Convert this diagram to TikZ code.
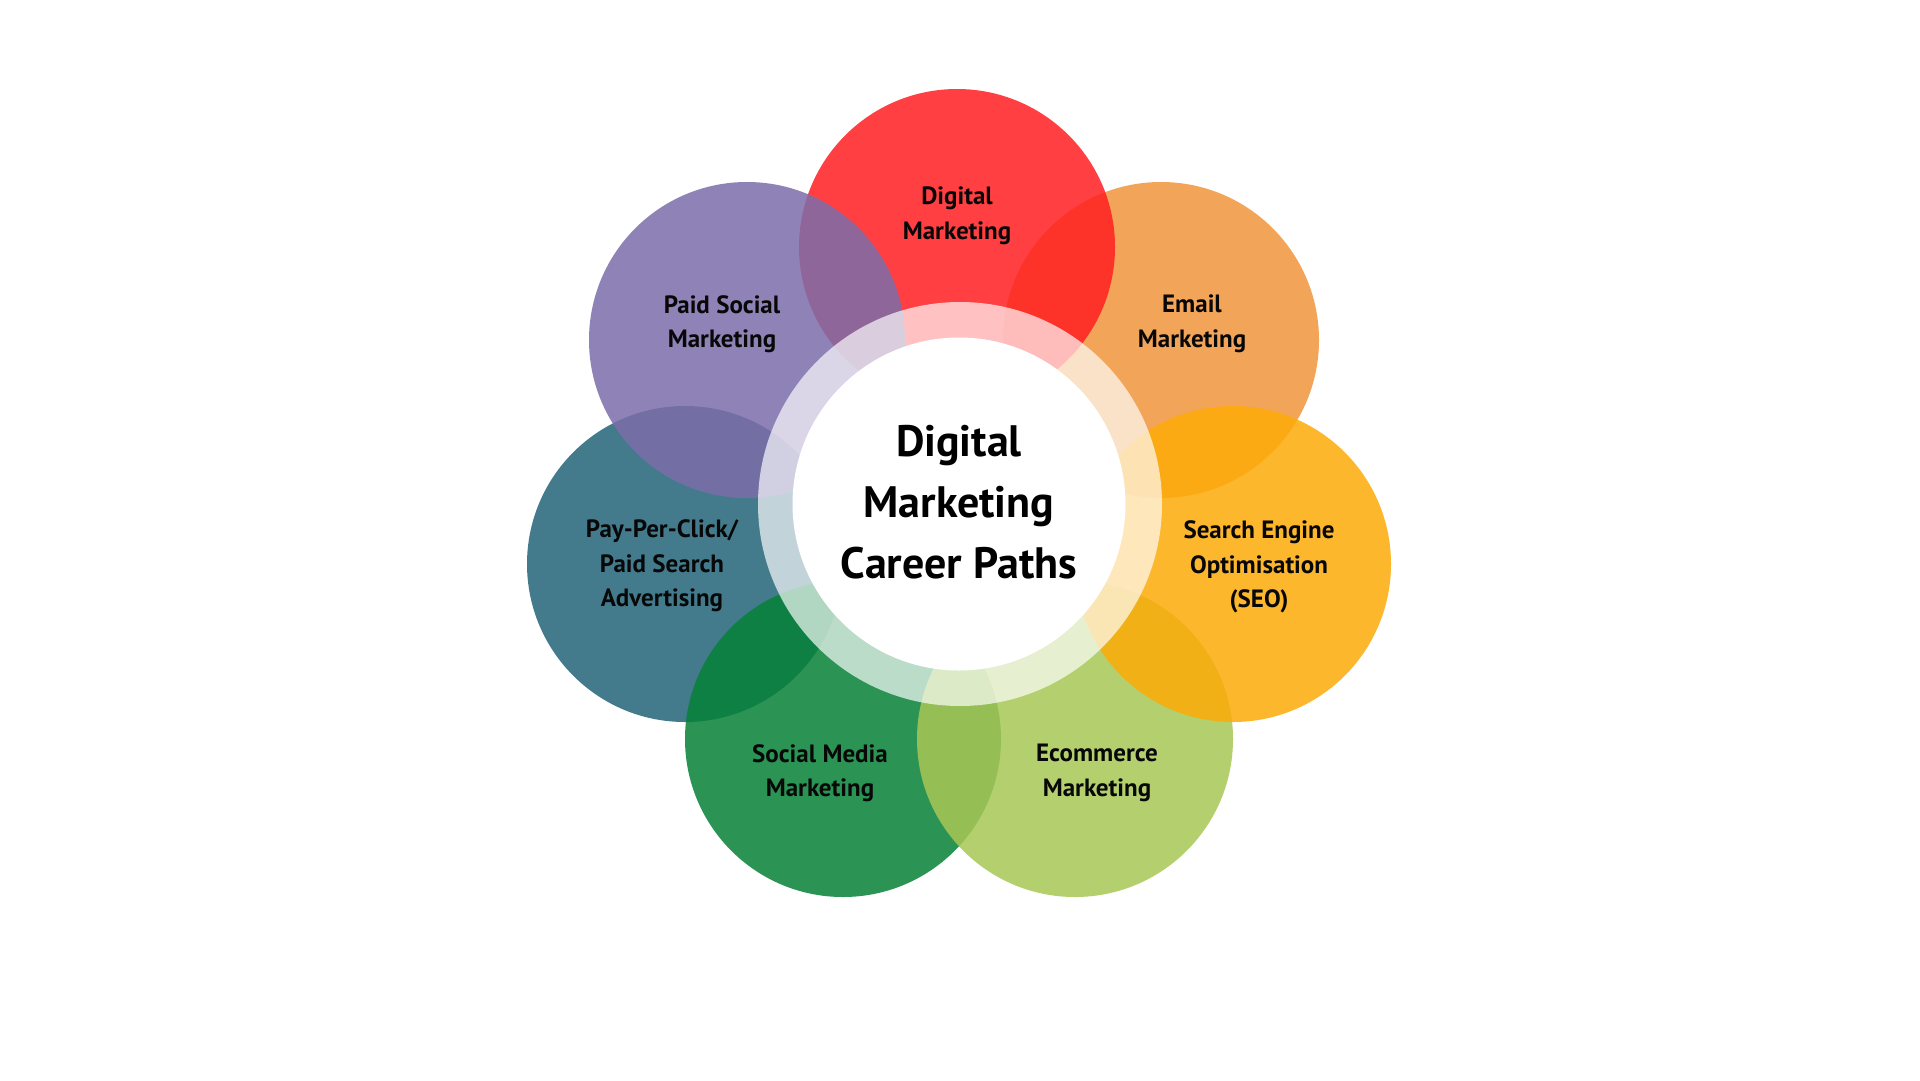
\documentclass[tikz,border=0pt]{standalone}
\usepackage{fontspec}
\setmainfont{PT Sans}
\definecolor{cRed}{RGB}{255,30,33}
\definecolor{cEmail}{RGB}{240,150,61}
\definecolor{cSeo}{RGB}{253,171,8}
\definecolor{cEcom}{RGB}{168,199,84}
\definecolor{cSocial}{RGB}{6,129,55}
\definecolor{cPpc}{RGB}{35,100,122}
\definecolor{cPurple}{RGB}{124,109,170}
\definecolor{cText}{RGB}{8,8,8}
\tikzset{
  petal/.style={circle, minimum size=316pt, inner sep=0pt, draw=none, fill opacity=0.85},
  lbl/.style={align=center, text=cText, inner sep=0pt, font=\fontsize{25}{34.5}\selectfont\bfseries},
  hublbl/.style={align=center, text=black, inner sep=0pt, font=\fontsize{44}{61}\selectfont\bfseries},
}
\begin{document}
\begin{tikzpicture}[x=1pt,y=-1pt]
\fill[white] (0,0) rectangle (1920,1080);
\useasboundingbox (0,0) rectangle (1920,1080);
% petals, bottom to top
\node[petal, fill=cEmail]  (email)  at (1161,340) {};
\node[petal, fill=cRed]    (red)    at (957,247) {};
\node[petal, fill=cPpc]    (ppc)    at (685,564) {};
\node[petal, fill=cPurple] (paid)   at (747,340) {};
\node[petal, fill=cSocial] (social) at (843,739) {};
\node[petal, fill=cEcom]   (ecom)   at (1075,739) {};
\node[petal, fill=cSeo]    (seo)    at (1233,564) {};
% hub
\node[circle, minimum size=404pt, inner sep=0pt, fill=white, fill opacity=0.68] (ring) at (960,504) {};
\node[circle, minimum size=333pt, inner sep=0pt, fill=white] (hub) at (959,504) {};
% labels
\node[lbl] (tred)    at (957,216) {Digital\\Marketing};
\node[lbl] (tpaid)   at (722,324) {Paid Social\\Marketing};
\node[lbl] (temail)  at (1192,324) {Email\\Marketing};
\node[lbl] (tseo)    at (1259,567) {Search Engine\\Optimisation\\(SEO)};
\node[lbl] (tppc)    at (662,566) {Pay-Per-Click/\\Paid Search\\Advertising};
\node[lbl] (tsocial) at (820,773) {Social Media\\Marketing};
\node[lbl] (tecom)   at (1097,773) {Ecommerce\\Marketing};
\node[hublbl] (thub) at (959,502) {Digital\\Marketing\\Career Paths};
\end{tikzpicture}
\end{document}
